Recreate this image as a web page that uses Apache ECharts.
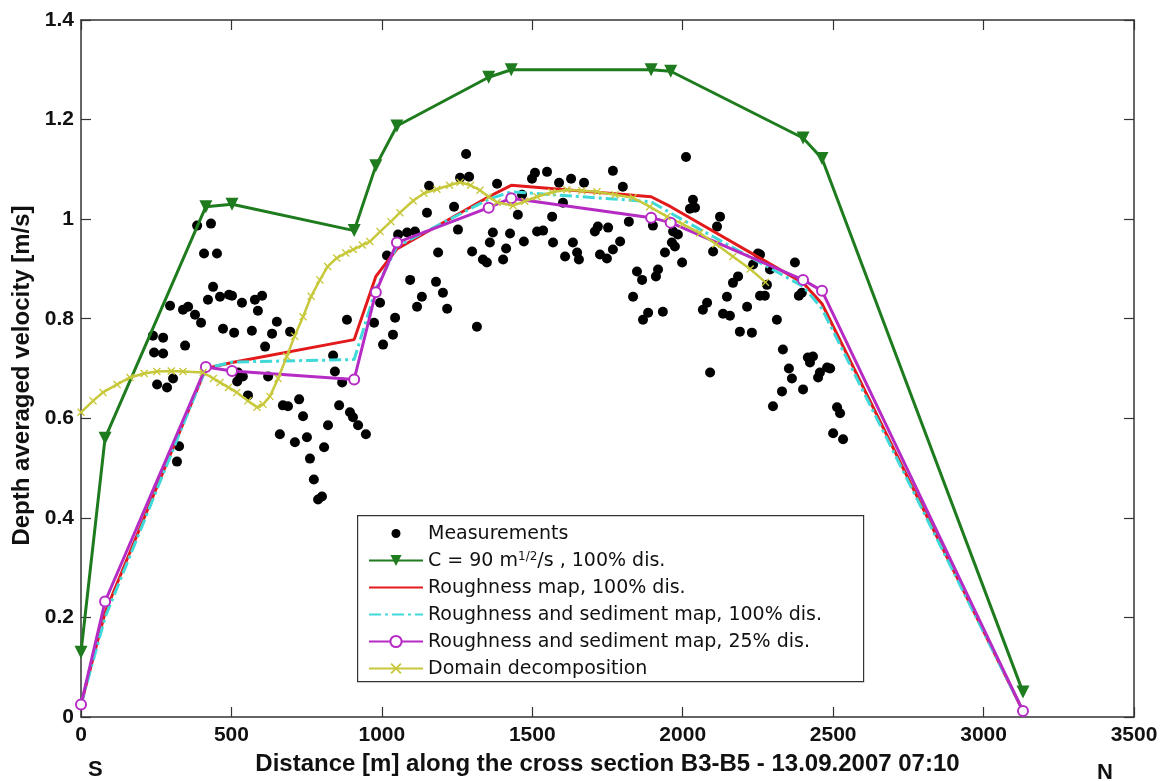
<!DOCTYPE html>
<html><head><meta charset="utf-8">
<script src="https://cdn.jsdelivr.net/npm/echarts@6/dist/echarts.min.js"></script>
<style>html,body{margin:0;padding:0;background:#fff}#c{width:1168px;height:781px}</style>
</head><body><div id="c"></div><script>
// ---------- data ----------
const xTicks = [0, 500, 1000, 1500, 2000, 2500, 3000, 3500];
const yTicks = [0, 0.2, 0.4, 0.6, 0.8, 1, 1.2, 1.4];
const seriesNames = ['Measurements', 'C = 90 m1/2/s , 100% dis.', 'Roughness map, 100% dis.',
  'Roughness and sediment map, 100% dis.', 'Roughness and sediment map, 25% dis.', 'Domain decomposition'];
const xTitle = 'Distance [m] along the cross section B3-B5 - 13.09.2007 07:10';
const yTitle = 'Depth averaged velocity [m/s]';
const sideLabels = ['S', 'N'];

// model output nodes (distance, m)
const modelX = [0, 80, 415, 502, 908, 980, 1050, 1355, 1430, 1895, 1960, 2400, 2463, 3131];
const chezy90 = [0.13, 0.56, 1.025, 1.03, 0.977, 1.107, 1.187, 1.285, 1.30, 1.30, 1.297, 1.163, 1.122, 0.05];
const roughMap = [0.025, 0.21, 0.70, 0.712, 0.758, 0.885, 0.94, 1.045, 1.068, 1.045, 1.025, 0.872, 0.83, 0.012];
const roughSed100 = [0.025, 0.20, 0.70, 0.713, 0.718, 0.86, 0.945, 1.04, 1.055, 1.035, 1.012, 0.865, 0.82, 0.012];
const roughSed25 = [0.025, 0.232, 0.703, 0.695, 0.678, 0.853, 0.953, 1.023, 1.042, 1.003, 0.993, 0.878, 0.856, 0.012];

// domain decomposition [distance, velocity]
const domainDec = [[0,0.612],[40,0.635],[73,0.652],[120,0.668],[163,0.682],[210,0.69],[252,0.694],[300,0.695],[339,0.694],
  [406,0.692],[440,0.68],[462,0.672],[490,0.662],[518,0.652],[555,0.635],[585,0.622],[605,0.628],[628,0.644],[655,0.68],
  [684,0.724],[710,0.765],[738,0.804],[765,0.845],[794,0.878],[820,0.905],[850,0.922],[880,0.932],[905,0.939],[935,0.948],
  [960,0.955],[994,0.975],[1030,0.995],[1060,1.013],[1104,1.037],[1140,1.052],[1183,1.06],[1225,1.068],[1260,1.074],
  [1295,1.068],[1326,1.058],[1355,1.045],[1383,1.034],[1436,1.027],[1475,1.036],[1516,1.045],[1565,1.054],[1615,1.059],
  [1665,1.057],[1715,1.055],[1775,1.049],[1835,1.043],[1890,1.025],[1948,1.005],[2000,0.99],[2057,0.972],[2110,0.95],
  [2167,0.925],[2224,0.9],[2275,0.873]];

// measurements [distance, velocity]
const measurements = [[239,0.766],[273,0.762],[243,0.732],[273,0.730],[253,0.668],[286,0.662],[296,0.826],[306,0.680],[319,0.513],[326,0.544],
[339,0.818],[356,0.824],[379,0.808],[399,0.792],[346,0.746],[386,0.987],[432,0.991],[409,0.931],[452,0.931],[439,0.864],
[422,0.838],[462,0.844],[492,0.848],[502,0.846],[535,0.832],[578,0.838],[602,0.846],[588,0.816],[472,0.780],[509,0.772],
[568,0.776],[635,0.770],[651,0.794],[695,0.774],[612,0.744],[522,0.692],[538,0.684],[519,0.674],[622,0.684],[555,0.646],
[671,0.626],[688,0.624],[725,0.638],[738,0.604],[661,0.568],[711,0.552],[751,0.562],[808,0.542],[761,0.519],[774,0.477],
[788,0.437],[801,0.443],[821,0.586],[858,0.626],[894,0.612],[904,0.602],[921,0.586],[947,0.568],[838,0.726],[844,0.694],
[868,0.672],[884,0.798],[994,0.832],[974,0.792],[1004,0.748],[1044,0.802],[1037,0.768],[1017,0.927],[1054,0.969],[1084,0.973],
[1110,0.975],[1094,0.878],[1180,0.874],[1203,0.852],[1133,0.844],[1117,0.824],[1217,0.820],[1150,1.013],[1157,1.067],[1240,1.025],
[1253,0.979],[1187,0.933],[1300,0.935],[1336,0.919],[1349,0.913],[1403,0.919],[1280,1.131],[1260,1.083],[1290,1.085],[1383,1.071],
[1509,1.093],[1549,1.095],[1499,1.081],[1466,1.049],[1452,1.009],[1369,0.973],[1426,0.971],[1359,0.953],[1413,0.941],[1472,0.955],
[1316,0.784],[1589,1.073],[1629,1.081],[1672,1.073],[1768,1.097],[1801,1.065],[1566,1.005],[1602,1.033],[1516,0.975],[1536,0.977],
[1569,0.953],[1635,0.953],[1609,0.925],[1649,0.933],[1655,0.919],[1708,0.975],[1718,0.985],[1752,0.983],[1725,0.929],[1748,0.921],
[1768,0.939],[1792,0.955],[1821,0.995],[1901,0.987],[1848,0.895],[1865,0.878],[1918,0.899],[1911,0.885],[1835,0.844],[1885,0.812],
[1868,0.798],[1934,0.814],[2011,1.125],[2034,1.039],[2041,1.023],[2024,1.021],[2124,1.005],[2114,0.985],[1968,0.975],[1984,0.969],
[1964,0.953],[1974,0.945],[1941,0.933],[1998,0.913],[2101,0.935],[2250,0.931],[2234,0.909],[2167,0.872],[2184,0.885],[2147,0.844],
[2081,0.832],[2067,0.818],[2214,0.824],[2134,0.810],[2157,0.806],[2257,0.846],[2273,0.846],[2280,0.868],[2313,0.798],[2190,0.774],
[2230,0.772],[2091,0.692],[2257,0.929],[2290,0.899],[2373,0.913],[2386,0.846],[2396,0.852],[2333,0.738],[2353,0.700],[2363,0.680],
[2416,0.722],[2433,0.724],[2423,0.712],[2456,0.692],[2480,0.702],[2490,0.700],[2450,0.682],[2330,0.654],[2400,0.658],[2300,0.624],
[2513,0.622],[2523,0.610],[2500,0.570],[2533,0.558]];

// ---------- chart ----------
const pair = (xs, ys) => xs.map((x, i) => [x, ys[i]]);
const AX = '#333';
const tickFont = {fontFamily: 'Liberation Sans, Arial, sans-serif', fontWeight: 'bold', fontSize: 21, color: '#111'};
const crossPath = 'path://M0,1.2L1.2,0L5,3.8L8.8,0L10,1.2L6.2,5L10,8.8L8.8,10L5,6.2L1.2,10L0,8.8L3.8,5Z';
const dotIcon = 'path://M0,0M14,14M2.5,7A4.5,4.5 0 1,0 11.5,7A4.5,4.5 0 1,0 2.5,7Z';
const LF = 'DejaVu Sans, Verdana, sans-serif';

const axisCommon = {
  axisLine: {show: true, onZero: false, lineStyle: {color: AX, width: 1.5}},
  axisTick: {show: true, inside: true, length: 10, lineStyle: {color: AX, width: 1.2}},
  splitLine: {show: false}
};

const chart = echarts.init(document.getElementById('c'), null, {renderer: 'canvas'});
chart.setOption({
  animation: false,
  backgroundColor: '#fff',
  grid: {left: 81, right: 34, top: 20, bottom: 63, containLabel: false},
  xAxis: [
    Object.assign({type: 'value', position: 'bottom', min: xTicks[0], max: xTicks[xTicks.length - 1], interval: xTicks[1] - xTicks[0],
      axisLabel: Object.assign({margin: 8, formatter: v => String(v)}, tickFont),
      name: xTitle, nameLocation: 'middle', nameGap: 35,
      nameTextStyle: {fontFamily: 'Liberation Sans, Arial, sans-serif', fontWeight: 'bold', fontSize: 24, color: '#111'}}, axisCommon),
    Object.assign({type: 'value', position: 'top', min: xTicks[0], max: xTicks[xTicks.length - 1], interval: xTicks[1] - xTicks[0],
      axisLabel: {show: false}}, axisCommon)
  ],
  yAxis: [
    Object.assign({type: 'value', position: 'left', min: yTicks[0], max: yTicks[yTicks.length - 1], interval: 0.2,
      axisLabel: Object.assign({margin: 7, formatter: v => String(Math.round(v * 10) / 10)}, tickFont),
      name: yTitle, nameLocation: 'middle', nameGap: 46,
      nameTextStyle: {fontFamily: 'Liberation Sans, Arial, sans-serif', fontWeight: 'bold', fontSize: 24, color: '#111', padding: [0, 14, 0, 0]}}, axisCommon),
    Object.assign({type: 'value', position: 'right', min: yTicks[0], max: yTicks[yTicks.length - 1], interval: 0.2,
      axisLabel: {show: false}}, axisCommon)
  ],
  legend: {
    orient: 'vertical', left: 368, top: 523, padding: 0, itemGap: 6, itemWidth: 54, itemHeight: 14,
    textStyle: {fontFamily: LF, fontSize: 19, color: '#111', lineHeight: 20,
      rich: {
        n: {fontFamily: LF, fontSize: 19, color: '#111', lineHeight: 20, padding: [2, 0, 0, 0]},
        sup: {fontFamily: LF, fontSize: 12, color: '#111', lineHeight: 12, verticalAlign: 'top'}
      }},
    formatter: function (name) {
      if (name === seriesNames[1]) return '{n|C = 90 m}{sup|1/2}{n|/s , 100% dis.}';
      return '{n|' + name + '}';
    },
    data: [{name: seriesNames[0], icon: dotIcon}, seriesNames[1], seriesNames[2], seriesNames[3], seriesNames[4], seriesNames[5]]
  },
  graphic: [
    {type: 'rect', left: 357, top: 515, z: 3, shape: {width: 506, height: 166}, style: {fill: '#fff', stroke: '#333', lineWidth: 1.2}},
    {type: 'text', left: 88, top: 759, z: 5, style: {text: sideLabels[0], font: 'bold 22px "Liberation Sans", Arial, sans-serif', fill: '#111'}},
    {type: 'text', left: 1097, top: 762, z: 5, style: {text: sideLabels[1], font: 'bold 22px "Liberation Sans", Arial, sans-serif', fill: '#111'}}
  ],
  series: [
    {name: seriesNames[0], type: 'scatter', data: measurements, symbol: 'circle', symbolSize: 10,
      itemStyle: {color: '#000', opacity: 1}, z: 2},
    {name: seriesNames[1], type: 'line', data: pair(modelX, chezy90), symbol: 'triangle', symbolRotate: 180, symbolSize: 13,
      lineStyle: {color: '#1e7b1e', width: 3}, itemStyle: {color: '#1e7b1e'}, z: 3},
    {name: seriesNames[2], type: 'line', data: pair(modelX, roughMap), symbol: 'none',
      lineStyle: {color: '#e31a1c', width: 3}, itemStyle: {color: 'rgba(0,0,0,0)'}, z: 3},
    {name: seriesNames[3], type: 'line', data: pair(modelX, roughSed100), symbol: 'none',
      lineStyle: {color: '#3fd9d9', width: 3, type: [12, 4, 3, 4]}, itemStyle: {color: 'rgba(0,0,0,0)'}, z: 3},
    {name: seriesNames[4], type: 'line', data: pair(modelX, roughSed25), symbol: 'emptyCircle', symbolSize: 10,
      lineStyle: {color: '#b52bc4', width: 3}, itemStyle: {color: '#b52bc4', borderColor: '#b52bc4', borderWidth: 2}, z: 3},
    {name: seriesNames[5], type: 'line', data: domainDec, symbol: crossPath, symbolSize: 8,
      lineStyle: {color: '#c8c83c', width: 2.5}, itemStyle: {color: '#c8c83c'}, z: 3}
  ]
});
</script></body></html>
